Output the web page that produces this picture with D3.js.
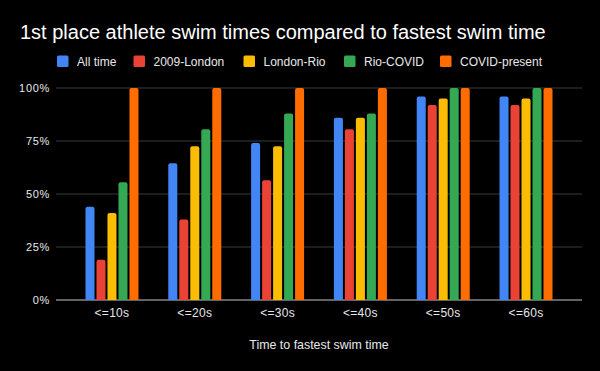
<!DOCTYPE html>
<html>
<head>
<meta charset="utf-8">
<script src="https://cdn.jsdelivr.net/npm/d3@7"></script>
<style>
  html, body { margin: 0; padding: 0; background: #000; }
  svg { display: block; font-family: "Liberation Sans", Arial, sans-serif; }
</style>
</head>
<body>
<svg width="600" height="371"></svg>
<script>
const categories = ["<=10s", "<=20s", "<=30s", "<=40s", "<=50s", "<=60s"];
const seriesNames = ["All time", "2009-London", "London-Rio", "Rio-COVID", "COVID-present"];
const colors = ["#4285f4", "#ea4335", "#fbbc04", "#34a853", "#ff6d01"];

// one array per series, fraction of athletes
const allTime = [0.44, 0.645, 0.74, 0.86, 0.96, 0.96];
const london2009 = [0.19, 0.38, 0.565, 0.805, 0.92, 0.92];
const londonRio = [0.41, 0.725, 0.725, 0.86, 0.95, 0.95];
const rioCovid = [0.555, 0.805, 0.88, 0.88, 1, 1];
const covidPresent = [1, 1, 1, 1, 1, 1];
const seriesValues = [allTime, london2009, londonRio, rioCovid, covidPresent];

const yTicks = [0, 0.25, 0.5, 0.75, 1];

const svg = d3.select("svg");
const plotLeft = 56, plotRight = 582, plotTop = 88, plotBottom = 300;

const x0 = d3.scaleBand().domain(categories).range([plotLeft, plotRight])
  .paddingInner(0.36).paddingOuter(0.356);
const x1 = d3.scaleBand().domain(seriesNames).range([0, x0.bandwidth()])
  .paddingInner(0.18);
const y = d3.scaleLinear().domain([0, 1]).range([plotBottom, plotTop]);

// title
svg.append("text")
  .attr("x", 20).attr("y", 39)
  .attr("fill", "#fff")
  .style("font-size", "20px")
  .text("1st place athlete swim times compared to fastest swim time");

// legend
const legendX = [57, 133.5, 243.5, 344, 440];
const legend = svg.append("g").selectAll("g")
  .data(seriesNames)
  .enter()
  .append("g")
  .attr("transform", (d, i) => `translate(${legendX[i]},55.5)`);
legend.append("rect")
  .attr("width", 11.5).attr("height", 11.5).attr("rx", 1.5)
  .attr("fill", (d, i) => colors[i]);
legend.append("text")
  .attr("x", 20).attr("y", 10.5)
  .attr("fill", "#e8e8e8")
  .style("font-size", "12px")
  .text((d) => d);

// gridlines + y labels
const grid = svg.append("g").selectAll("g")
  .data(yTicks)
  .enter()
  .append("g");
grid.append("line")
  .attr("x1", plotLeft).attr("x2", plotRight)
  .attr("y1", (d) => y(d)).attr("y2", (d) => y(d))
  .attr("stroke", (d) => (d === 0 ? "#c8c8c8" : "#3a3a3a"))
  .attr("stroke-width", 1);
grid.append("text")
  .attr("x", 50).attr("y", (d) => y(d) + 4)
  .attr("text-anchor", "end")
  .attr("fill", "#e8e8e8")
  .style("font-size", "11px")
  .style("letter-spacing", "0.7px")
  .text((d) => d3.format(".0%")(d));

// bars with slightly rounded tops
function barPath(x, yTop, w, h, r) {
  r = Math.min(r, h);
  return `M${x},${yTop + h}V${yTop + r}Q${x},${yTop} ${x + r},${yTop}` +
    `H${x + w - r}Q${x + w},${yTop} ${x + w},${yTop + r}V${yTop + h}Z`;
}

const groups = svg.append("g").selectAll("g")
  .data(categories)
  .enter()
  .append("g")
  .attr("transform", (d) => `translate(${x0(d)},0)`);

groups.selectAll("path")
  .data((c, ci) => seriesNames.map((s, si) => ({ s, si, v: seriesValues[si][ci] })))
  .enter()
  .append("path")
  .attr("fill", (d) => colors[d.si])
  .attr("d", (d) => barPath(x1(d.s), y(d.v), x1.bandwidth(), plotBottom - y(d.v), 2));

// x labels
svg.append("g").selectAll("text")
  .data(categories)
  .enter()
  .append("text")
  .attr("x", (d) => x0(d) + x0.bandwidth() / 2)
  .attr("y", 317)
  .attr("text-anchor", "middle")
  .attr("fill", "#e8e8e8")
  .style("font-size", "12px")
  .style("letter-spacing", "0.3px")
  .text((d) => d);

svg.append("text")
  .attr("x", (plotLeft + plotRight) / 2).attr("y", 349)
  .attr("text-anchor", "middle")
  .attr("fill", "#e8e8e8")
  .style("font-size", "12.4px")
  .text("Time to fastest swim time");
</script>
</body>
</html>
